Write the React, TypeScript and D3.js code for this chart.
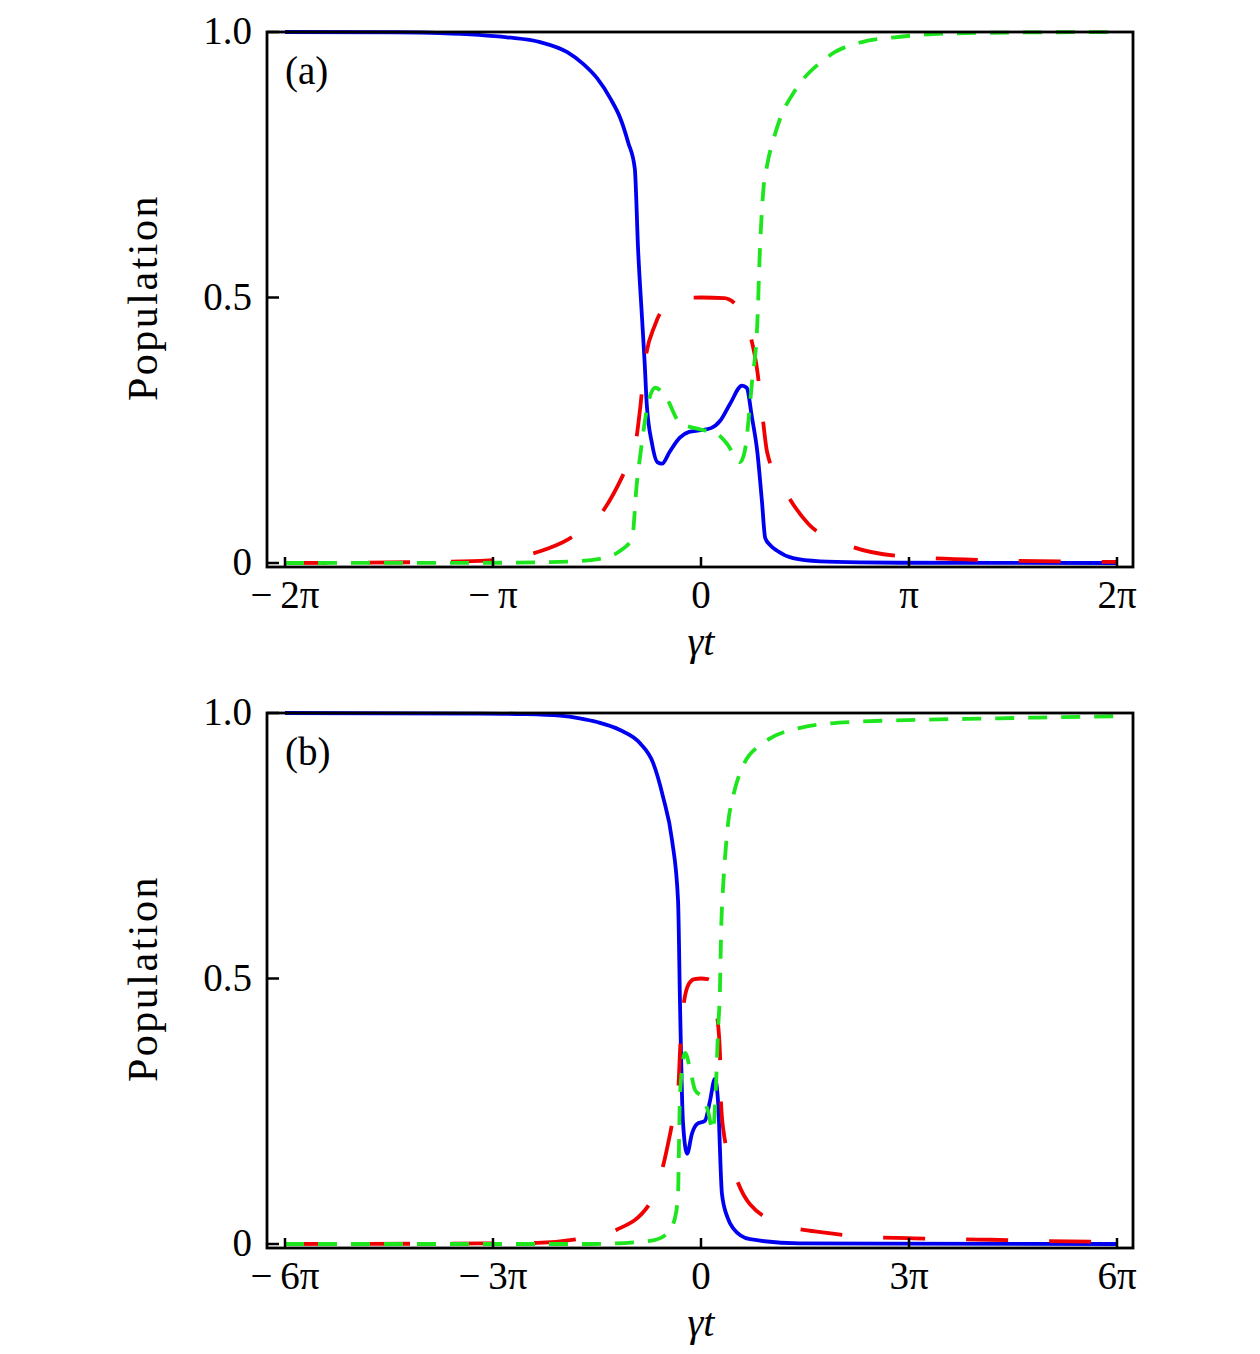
import React from "react";
import * as d3 from "d3";

const PI = Math.PI;

// ---------- Panel (a) data: x in units of γt ----------
const aBlueT = [-6.283, -4.6, -3.94, -2.93, -2.43, -2.02, -1.78, -1.57, -1.37, -1.22, -1.1, -1.0, -0.95, -0.89, -0.85, -0.82, -0.74, -0.66, -0.59, -0.47, -0.32, -0.18, 0, 0.15, 0.29, 0.44, 0.62, 0.69, 0.77, 0.85, 0.92, 0.97, 1.05, 1.15, 1.39, 1.8, 2.4, 3.0, 6.283];
const aBlueY = [1.0, 0.9995, 0.998, 0.99, 0.981, 0.962, 0.94, 0.913, 0.875, 0.838, 0.792, 0.743, 0.59, 0.46, 0.375, 0.3, 0.225, 0.19, 0.187, 0.21, 0.236, 0.247, 0.25, 0.254, 0.268, 0.3, 0.334, 0.33, 0.274, 0.21, 0.117, 0.047, 0.033, 0.023, 0.009, 0.003, 0.001, 0.0005, 0.0];

const aRedT = [-6.283, -4.0, -3.2, -2.43, -2.0, -1.48, -1.18, -1.0, -0.92, -0.85, -0.69, -0.5, -0.35, 0, 0.35, 0.5, 0.71, 0.85, 0.92, 1.0, 1.27, 1.62, 2.25, 3.0, 4.5, 6.283];
const aRedY = [0.0, 0.002, 0.005, 0.022, 0.045, 0.098, 0.165, 0.217, 0.29, 0.375, 0.45, 0.49, 0.499, 0.5, 0.499, 0.49, 0.443, 0.362, 0.287, 0.208, 0.136, 0.074, 0.032, 0.013, 0.005, 0.002];

const aGreenT = [-6.283, -3.0, -2.13, -1.53, -1.22, -1.04, -0.97, -0.91, -0.8, -0.69, -0.52, -0.32, -0.06, 0.24, 0.39, 0.59, 0.66, 0.77, 0.85, 0.89, 0.94, 1.0, 1.1, 1.22, 1.37, 1.57, 1.78, 2.02, 2.43, 2.93, 4.0, 6.283];
const aGreenY = [0.0, 0.0005, 0.002, 0.008, 0.023, 0.047, 0.149, 0.21, 0.3, 0.33, 0.31, 0.264, 0.253, 0.243, 0.225, 0.19, 0.21, 0.34, 0.45, 0.59, 0.7, 0.75, 0.8, 0.845, 0.88, 0.915, 0.94, 0.962, 0.981, 0.99, 0.998, 1.0];

// ---------- Panel (b) data ----------
const bBlueT = [-18.85, -10, -8, -6.39, -5.5, -4.71, -3.67, -2.76, -2.17, -1.72, -1.31, -1.04, -0.95, -0.82, -0.63, -0.41, -0.18, 0.18, 0.41, 0.63, 0.77, 0.95, 1.2, 1.45, 2.22, 4.49, 18.85];
const bBlueY = [1.0, 0.999, 0.998, 0.995, 0.99, 0.983, 0.968, 0.943, 0.906, 0.842, 0.76, 0.647, 0.45, 0.232, 0.17, 0.208, 0.226, 0.232, 0.27, 0.311, 0.27, 0.094, 0.05, 0.03, 0.009, 0.001, 0.0];

const bRedT = [-18.85, -10, -7.43, -5.62, -3.82, -2.31, -1.72, -1.31, -1.04, -0.95, -0.82, -0.55, -0.3, 0, 0.3, 0.55, 0.72, 0.86, 0.9, 1.0, 1.45, 2.22, 3.9, 5.7, 7.6, 9.4, 11.3, 13.1, 15.2, 18.85];
const bRedY = [0.0, 0.001, 0.002, 0.009, 0.027, 0.077, 0.147, 0.226, 0.283, 0.364, 0.44, 0.49, 0.499, 0.5, 0.499, 0.49, 0.434, 0.358, 0.275, 0.219, 0.143, 0.075, 0.034, 0.021, 0.013, 0.011, 0.009, 0.008, 0.006, 0.004];

const bGreenT = [-18.85, -5, -2.31, -1.54, -1.18, -1.04, -1.0, -0.95, -0.72, -0.45, -0.27, 0.09, 0.32, 0.54, 0.68, 0.77, 0.86, 0.91, 1.0, 1.09, 1.22, 1.45, 1.9, 2.81, 4.5, 6.8, 13.5, 18.85];
const bGreenY = [0.0, 0.0, 0.006, 0.019, 0.049, 0.094, 0.18, 0.283, 0.36, 0.32, 0.29, 0.275, 0.25, 0.213, 0.3, 0.4, 0.483, 0.585, 0.672, 0.728, 0.79, 0.842, 0.9, 0.943, 0.972, 0.983, 0.99, 0.994];

// ---------- ticks ----------
const yTicks = [0, 0.5, 1.0];
const yTickLabels = ["0", "0.5", "1.0"];
const aXTicks = [-2, -1, 0, 1, 2];
const aXTickLabels = ["\u2212\u20092\u03c0", "\u2212\u2009\u03c0", "0", "\u03c0", "2\u03c0"];
const bXTicks = [-6, -3, 0, 3, 6];
const bXTickLabels = ["\u2212\u20096\u03c0", "\u2212\u20093\u03c0", "0", "3\u03c0", "6\u03c0"];

const FONT = "'Liberation Serif', 'Times New Roman', serif";
const BLUE = "#0000f0";
const RED = "#f00000";
const GREEN = "#1ee61e";

type PanelProps = {
  top: number;
  label: string;
  xMax: number;
  xTicks: number[];
  xTickLabels: string[];
  blue: [number[], number[]];
  red: [number[], number[]];
  green: [number[], number[]];
};

function Panel({ top, label, xMax, xTicks, xTickLabels, blue, red, green }: PanelProps) {
  const frameL = 267, frameR = 1133;
  const frameT = top, frameB = top + 535;
  const x = d3.scaleLinear().domain([-xMax, xMax]).range([285, 1117]);
  const y = d3.scaleLinear().domain([0, 1]).range([top + 531, top]);
  const line = d3
    .line<[number, number]>()
    .x((d) => x(d[0]))
    .y((d) => y(d[1]))
    .curve(d3.curveMonotoneX);
  const toPts = (s: [number[], number[]]) => s[0].map((t, i) => [t, s[1][i]] as [number, number]);
  const clipId = "clip" + label.replace(/[()]/g, "");
  return (
    <g>
      <defs>
        <clipPath id={clipId}>
          <rect x={frameL} y={frameT - 3} width={frameR - frameL} height={frameB - frameT + 3} />
        </clipPath>
      </defs>
      <g clipPath={`url(#${clipId})`}>
        <path d={line(toPts(blue)) || ""} fill="none" stroke={BLUE} strokeWidth={3.8} />
        <path d={line(toPts(red)) || ""} fill="none" stroke={RED} strokeWidth={3.8} strokeDasharray="42 41" />
        <path d={line(toPts(green)) || ""} fill="none" stroke={GREEN} strokeWidth={3.8} strokeDasharray="19 14" />
      </g>
      <rect x={frameL} y={frameT} width={frameR - frameL} height={frameB - frameT} fill="none" stroke="#000" strokeWidth={2.8} />
      {yTicks.map((v, i) => (
        <g key={"y" + i}>
          <line x1={frameL} x2={frameL + 12} y1={y(v)} y2={y(v)} stroke="#000" strokeWidth={2.5} />
          <text x={252} y={y(v) + 12} textAnchor="end" fontFamily={FONT} fontSize={39} fill="#000">
            {yTickLabels[i]}
          </text>
        </g>
      ))}
      {xTicks.map((v, i) => (
        <g key={"x" + i}>
          <line x1={x(v * PI)} x2={x(v * PI)} y1={frameB} y2={frameB - 10} stroke="#000" strokeWidth={2.5} />
          <text x={x(v * PI)} y={frameB + 41} textAnchor="middle" fontFamily={FONT} fontSize={39} fill="#000">
            {xTickLabels[i]}
          </text>
        </g>
      ))}
      <text x={701} y={frameB + 88} textAnchor="middle" fontFamily={FONT} fontSize={40} fontStyle="italic" fill="#000">
        {"\u03b3t"}
      </text>
      <text
        transform={`translate(157, ${y(0.5)}) rotate(-90)`}
        textAnchor="middle"
        fontFamily={FONT}
        fontSize={42}
        letterSpacing={2.5}
        fill="#000"
      >
        Population
      </text>
      <text x={285} y={top + 52} fontFamily={FONT} fontSize={39} fill="#000">
        {label}
      </text>
    </g>
  );
}

export default function App() {
  return (
    <svg
      width={1260}
      height={1354}
      viewBox="0 0 1260 1354"
      style={{ position: "absolute", left: 0, top: 0, background: "#fff" }}
    >
      <rect x={0} y={0} width={1260} height={1354} fill="#fff" />
      <Panel
        top={32}
        label="(a)"
        xMax={2 * PI}
        xTicks={aXTicks}
        xTickLabels={aXTickLabels}
        blue={[aBlueT, aBlueY]}
        red={[aRedT, aRedY]}
        green={[aGreenT, aGreenY]}
      />
      <Panel
        top={713}
        label="(b)"
        xMax={6 * PI}
        xTicks={bXTicks}
        xTickLabels={bXTickLabels}
        blue={[bBlueT, bBlueY]}
        red={[bRedT, bRedY]}
        green={[bGreenT, bGreenY]}
      />
    </svg>
  );
}
